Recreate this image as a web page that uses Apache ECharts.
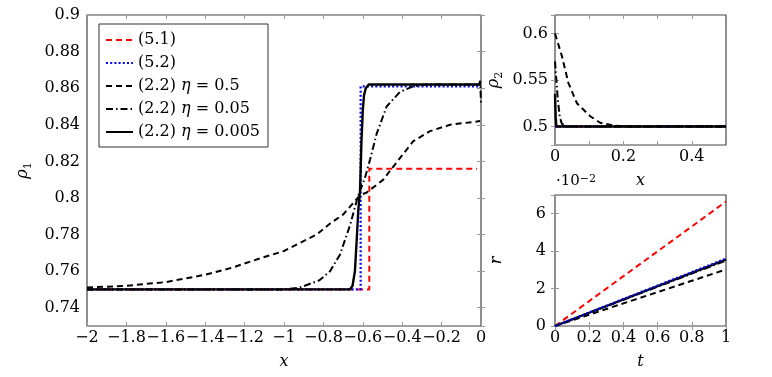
<!DOCTYPE html>
<html>
<head>
<meta charset="utf-8">
<script src="https://cdn.jsdelivr.net/npm/echarts@6/dist/echarts.min.js"></script>
<style>
  html, body { margin: 0; padding: 0; background: #fff; }
  #chart { width: 772px; height: 377px; }
</style>
</head>
<body>
<div id="chart"></div>
<script>
// series names (legend order)
const names = ['(5.1)', '(5.2)', '(2.2) η = 0.5', '(2.2) η = 0.05', '(2.2) η = 0.005'];

// rho_1 over x, main panel
const rho1_51 = [[-2, 0.75], [-0.567, 0.75], [-0.567, 0.816], [-0.02, 0.816]];
const rho1_52 = [[-2, 0.75], [-0.611, 0.75], [-0.611, 0.861], [0, 0.861]];
const rho1_eta05 = [[-2, 0.751], [-1.8, 0.752], [-1.6, 0.754], [-1.4, 0.758], [-1.26, 0.762], [-1.12, 0.767],
  [-1.0, 0.771], [-0.834, 0.780], [-0.766, 0.786], [-0.699, 0.791], [-0.614, 0.8015], [-0.58, 0.803],
  [-0.496, 0.810], [-0.428, 0.8195], [-0.344, 0.831], [-0.259, 0.8365], [-0.157, 0.840], [-0.005, 0.842]];
const rho1_eta005 = [[-2, 0.75], [-1.0, 0.75], [-0.92, 0.751], [-0.82, 0.755], [-0.766, 0.760], [-0.716, 0.769],
  [-0.665, 0.785], [-0.631, 0.7985], [-0.614, 0.804], [-0.589, 0.811], [-0.563, 0.821], [-0.53, 0.835],
  [-0.479, 0.850], [-0.411, 0.858], [-0.344, 0.861], [-0.276, 0.862], [-0.01, 0.862], [-0.004, 0.864], [0, 0.852]];
const rho1_eta0005 = [[-2, 0.75], [-0.665, 0.75], [-0.652, 0.752], [-0.64, 0.760], [-0.631, 0.777], [-0.623, 0.793],
  [-0.614, 0.804], [-0.607, 0.83], [-0.6, 0.848], [-0.594, 0.856], [-0.585, 0.86], [-0.57, 0.862], [0, 0.862]];

// rho_2 over x, top right panel
const rho2_51 = [[0, 0.5], [0.5, 0.5]];
const rho2_52 = [[0, 0.5], [0.5, 0.5]];
const rho2_eta05 = [[0, 0.6], [0.003, 0.599], [0.02, 0.576], [0.039, 0.547], [0.064, 0.525], [0.103, 0.511],
  [0.132, 0.504], [0.172, 0.5008], [0.2, 0.5], [0.5, 0.5]];
const rho2_eta005 = [[0, 0.57], [0.004, 0.55], [0.008, 0.53], [0.014, 0.51], [0.02, 0.503], [0.03, 0.5], [0.5, 0.5]];
const rho2_eta0005 = [[0, 0.535], [0.002, 0.51], [0.004, 0.5], [0.5, 0.5]];

// r over t (units of 1e-2), bottom right panel
const r_51 = [[0, 0], [1, 6.65]];
const r_52 = [[0, 0], [1, 3.6]];
const r_eta05 = [[0, 0], [1, 3.02]];
const r_eta005 = [[0, 0], [1, 3.5]];
const r_eta0005 = [[0, 0], [1, 3.55]];

const FONT = 'DejaVu Serif';
const FS = 16;

const styles = [
  { color: '#ff0000', width: 2, type: [6, 4] },
  { color: '#0000ff', width: 2.2, type: [2, 2.2] },
  { color: '#000000', width: 2, type: [6, 4] },
  { color: '#000000', width: 2, type: [7, 3, 1.5, 3] },
  { color: '#000000', width: 2.4, type: 'solid' }
];

function num(v) {
  return String(+v.toFixed(3)).replace('-', '\u2212');
}

const tickStyle = { show: true, inside: true, length: 4, lineStyle: { color: '#999', width: 1 } };
const labelStyle = { color: '#000', fontFamily: FONT, fontSize: FS };

function xAxes(grid, min, max, interval, formatter, name) {
  return [
    {
      type: 'value', gridIndex: grid, position: 'bottom', min: min, max: max, interval: interval,
      axisLine: { show: false }, splitLine: { show: false }, axisTick: tickStyle,
      axisLabel: Object.assign({ margin: 4, formatter: formatter }, labelStyle),
      name: name, nameLocation: 'middle', nameGap: 28,
      nameTextStyle: { fontFamily: FONT, fontSize: FS, fontStyle: 'italic', color: '#000' }
    },
    {
      type: 'value', gridIndex: grid, position: 'top', min: min, max: max, interval: interval,
      axisLine: { show: false }, splitLine: { show: false }, axisTick: tickStyle,
      axisLabel: { show: false }
    }
  ];
}

function yAxes(grid, min, max, opts, formatter, name, nameGap, margin) {
  return [
    Object.assign({
      type: 'value', gridIndex: grid, position: 'left', min: min, max: max,
      axisLine: { show: false }, splitLine: { show: false }, axisTick: tickStyle,
      axisLabel: Object.assign({ margin: margin, formatter: formatter }, labelStyle),
      name: name, nameLocation: 'middle', nameGap: nameGap, nameRotate: 90,
      nameTextStyle: {
        fontFamily: FONT, fontSize: FS, color: '#000',
        rich: {
          r: { fontFamily: FONT, fontSize: FS, fontStyle: 'italic', color: '#000' },
          s: { fontFamily: FONT, fontSize: 11, color: '#000', verticalAlign: 'bottom', lineHeight: 22 }
        }
      }
    }, opts),
    Object.assign({
      type: 'value', gridIndex: grid, position: 'right', min: min, max: max,
      axisLine: { show: false }, splitLine: { show: false }, axisTick: tickStyle,
      axisLabel: { show: false }
    }, opts)
  ];
}

const xAxis = [].concat(
  xAxes(0, -2, 0, 0.2, v => num(v), 'x'),
  xAxes(1, 0, 0.5, 0.1, v => (Math.round(v * 10) % 2 === 0 ? num(v) : ''), 'x'),
  xAxes(2, 0, 1, 0.2, v => num(v), 't')
);
const yAxis = [].concat(
  yAxes(0, 0.73, 0.9, { splitNumber: 8 }, v => (Math.round(v * 100) % 2 === 0 ? num(v) : ''), '{r|ρ}{s|1}', 50, 7),
  yAxes(1, 0.48, 0.62, { splitNumber: 3 }, v => (Math.round(v * 100) % 5 === 0 ? num(v) : ''), '{r|ρ}{s|2}', 50, 7),
  yAxes(2, 0, 7, { interval: 2 }, v => (v % 2 === 0 ? num(v) : ''), '{r|r}', 50, 9)
);

const panels = [
  { x: 0, y: 0, data: [rho1_51, rho1_52, rho1_eta05, rho1_eta005, rho1_eta0005] },
  { x: 2, y: 2, data: [rho2_51, rho2_52, rho2_eta05, rho2_eta005, rho2_eta0005] },
  { x: 4, y: 4, data: [r_51, r_52, r_eta05, r_eta005, r_eta0005] }
];

const series = [];
panels.forEach(function (p, pi) {
  p.data.forEach(function (d, i) {
    series.push({
      name: names[i],
      type: 'line',
      xAxisIndex: p.x,
      yAxisIndex: p.y,
      data: d,
      symbol: 'none',
      color: styles[i].color,
      lineStyle: styles[i],
      z: (pi === 2 && i === 1) ? 10 : 2 + i * 0.1,
      animation: false
    });
  });
});

const chart = echarts.init(document.getElementById('chart'));
chart.setOption({
  backgroundColor: '#fff',
  animation: false,
  grid: [
    { left: 87, top: 15, width: 394, height: 311, show: true, borderColor: '#444', borderWidth: 1.2, backgroundColor: 'transparent' },
    { left: 555, top: 15, width: 171, height: 130, show: true, borderColor: '#444', borderWidth: 1.2, backgroundColor: 'transparent' },
    { left: 555, top: 195, width: 171, height: 131, show: true, borderColor: '#444', borderWidth: 1.2, backgroundColor: 'transparent' }
  ],
  legend: {
    data: names,
    orient: 'vertical',
    left: 99,
    top: 24,
    padding: [8, 8, 7, 6],
    itemGap: 7,
    itemWidth: 27,
    itemHeight: 14,
    backgroundColor: '#fff',
    borderColor: '#333',
    borderWidth: 1,
    selectedMode: false,
    itemStyle: { opacity: 0 },
    formatter: function (n) { return n.replace('η', '{i|η}'); },
    textStyle: {
      fontFamily: FONT, fontSize: FS, color: '#000',
      rich: { i: { fontFamily: FONT, fontSize: FS, fontStyle: 'italic', color: '#000' } }
    }
  },
  graphic: [
    {
      type: 'text', left: 556, top: 174,
      style: {
        text: '·10{sup|−2}',
        fontFamily: FONT, fontSize: 15, fill: '#000',
        rich: { sup: { fontFamily: FONT, fontSize: 11, verticalAlign: 'top', fill: '#000' } }
      }
    }
  ],
  xAxis: xAxis,
  yAxis: yAxis,
  series: series
});
</script>
</body>
</html>
